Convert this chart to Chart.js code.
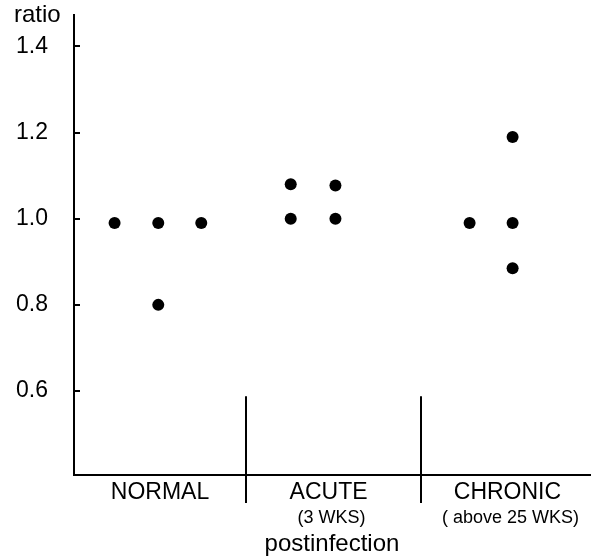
<!DOCTYPE html>
<html>
<head>
<meta charset="utf-8">
<script src="https://cdn.jsdelivr.net/npm/chart.js"></script>
<style>
  body { margin: 0; background: #fff; }
  #wrap { width: 596px; height: 560px; }
</style>
</head>
<body>
<div id="wrap"><canvas id="ratioChart"></canvas></div>
<script>
// groups along the x axis (x in group units, 0..3)
var groupNames = ['NORMAL', 'ACUTE', 'CHRONIC'];
var groupSubs = ['', '(3 WKS)', '( above 25 WKS)'];
var groupCenters = [0.5, 1.48, 2.52];
var dividerX = [1.0, 2.02];
var dividerTop = 0.588;

// observed ratios
var normalX = [0.236, 0.49, 0.74, 0.49];
var normalY = [0.99, 0.99, 0.99, 0.80];
var acuteX = [1.26, 1.26, 1.52, 1.52];
var acuteY = [1.08, 1.00, 1.077, 1.00];
var chronicX = [2.30, 2.55, 2.55, 2.55];
var chronicY = [0.99, 1.19, 0.99, 0.885];

var yTicks = [0.6, 0.8, 1.0, 1.2, 1.4];

var FONT = '"Liberation Sans", Arial, sans-serif';

function pts(xs, ys) {
    return xs.map(function (v, i) { return {x: v, y: ys[i]}; });
}

function dotSet(xs, ys) {
    return {
        data: pts(xs, ys),
        pointRadius: 6,
        pointBackgroundColor: '#000',
        pointBorderWidth: 0,
        showLine: false
    };
}

// dividers, inner tick marks and the group captions
const overlay = {
    id: 'overlay',
    afterDraw(chart) {
        const ctx = chart.ctx;
        const x = chart.scales.x, y = chart.scales.y;
        ctx.save();
        ctx.strokeStyle = '#000';
        ctx.lineWidth = 2;
        ctx.beginPath();
        dividerX.forEach(function (v) {
            var px = Math.round(x.getPixelForValue(v));
            ctx.moveTo(px, y.getPixelForValue(dividerTop));
            ctx.lineTo(px, y.bottom + 28);
        });
        yTicks.forEach(function (v) {
            var py = Math.round(y.getPixelForValue(v));
            ctx.moveTo(x.left, py);
            ctx.lineTo(x.left + 6, py);
        });
        ctx.stroke();

        ctx.fillStyle = '#000';
        ctx.textAlign = 'center';
        ctx.textBaseline = 'middle';
        groupNames.forEach(function (name, i) {
            var px = x.getPixelForValue(groupCenters[i]);
            ctx.font = '23px ' + FONT;
            ctx.fillText(name, px, y.bottom + 18);
            if (groupSubs[i]) {
                ctx.font = '18px ' + FONT;
                ctx.fillText(groupSubs[i], px + 3, y.bottom + 43);
            }
        });

        ctx.textAlign = 'left';
        ctx.textBaseline = 'alphabetic';
        ctx.font = '24px ' + FONT;
        ctx.fillText('ratio', 14, 22);
        ctx.restore();
    }
};

const chart = new Chart(document.getElementById('ratioChart'), {
    type: 'scatter',
    data: {
        datasets: [
            dotSet(normalX, normalY),
            dotSet(acuteX, acuteY),
            dotSet(chronicX, chronicY)
        ]
    },
    options: {
        responsive: true,
        maintainAspectRatio: false,
        animation: false,
        layout: {padding: {top: 15, right: 0, bottom: 0, left: 0}},
        plugins: {legend: {display: false}, tooltip: {enabled: false}},
        scales: {
            x: {
                type: 'linear',
                min: 0,
                max: 3,
                grid: {display: false},
                border: {display: true, color: '#000', width: 2},
                ticks: {display: false},
                title: {
                    display: true,
                    text: 'postinfection',
                    color: '#000',
                    font: {family: FONT, size: 24},
                    padding: {top: 0, bottom: 1}
                },
                afterFit: function (s) { s.height = 85; }
            },
            y: {
                type: 'linear',
                min: 0.405,
                max: 1.473,
                grid: {display: false},
                border: {display: true, color: '#000', width: 2},
                afterBuildTicks: function (s) {
                    s.ticks = yTicks.map(function (v) { return {value: v}; });
                },
                ticks: {
                    color: '#000',
                    padding: 18,
                    font: {family: FONT, size: 23},
                    callback: function (v) { return v.toFixed(1); }
                },
                afterFit: function (s) {
                    s.width = 74;
                    s.paddingTop = 0;
                    s.paddingBottom = 0;
                }
            }
        }
    },
    plugins: [overlay]
});
</script>
</body>
</html>
